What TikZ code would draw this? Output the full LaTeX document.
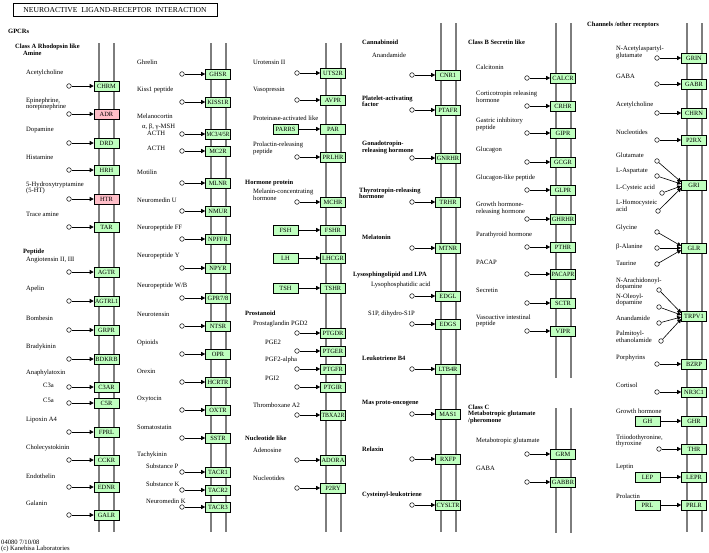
\documentclass[tikz,border=0pt]{standalone}
\usepackage{fontspec}
\setmainfont{Liberation Serif}
\usepackage{graphicx}
\usetikzlibrary{arrows.meta}
\definecolor{kgreen}{RGB}{191,255,191}
\definecolor{kpink}{RGB}{255,190,200}
\definecolor{memb}{RGB}{125,125,125}
\newsavebox\lbbox
\newcommand\fitl[1]{\sbox\lbbox{#1}\ifdim\wd\lbbox>23pt\resizebox{23pt}{\height}{\usebox\lbbox}\else\usebox\lbbox\fi}
\tikzset{
 rbox/.style={draw=black, fill=kgreen, minimum width=25pt, minimum height=10pt, inner sep=0pt, line width=0.6pt, font=\fontsize{6.4}{6.4}\selectfont},
 pbox/.style={rbox, fill=kpink},
 lig/.style={circle, draw=black, fill=white, minimum size=4.6pt, inner sep=0pt, line width=0.5pt},
 arr/.style={-{Triangle[length=4pt,width=4pt]}, line width=0.6pt},
 lbl/.style={anchor=west, inner sep=0pt, align=left, font=\fontsize{6.6}{6.5}\selectfont},
 hd/.style={lbl, font=\fontsize{6.5}{6.5}\selectfont\bfseries},
 mem/.style={draw=memb, line width=1.8pt},
}
\newcommand\rcp[6][rbox]{\node[lig] (c#5) at (#2,#4) {}; \node[#1] (#5) at (#3,#4) {\fitl{#6}}; \draw[arr] (c#5) -- (#5);}
\newcommand\lbx[7]{\node[rbox] (#4) at (#1,#3) {\fitl{#5}}; \node[rbox] (#6) at (#2,#3) {\fitl{#7}}; \draw[arr] (#4) -- (#6);}
\newcommand\tx[5][lbl]{\node[#1] (#2) at (#3,#4) {#5};}
\begin{document}
\begin{tikzpicture}[x=1pt,y=-1pt]
\useasboundingbox (0,0) rectangle (709,552);
\fill[white] (0,0) rectangle (709,552);
% membranes
\foreach \x in {99,114,211,226,326,341} \draw[mem] (\x,43) -- (\x,532);
\foreach \x in {441,456,687,702} \draw[mem] (\x,23) -- (\x,532);
\foreach \x in {556,571} {\draw[mem] (\x,23) -- (\x,378); \draw[mem] (\x,408) -- (\x,533);}
% title
\node[draw=black, line width=0.6pt, minimum width=204pt, minimum height=13pt, inner sep=0pt, font=\fontsize{7.6}{7.6}\selectfont] (title) at (115,10) {NEUROACTIVE\ \ LIGAND-RECEPTOR\ \ INTERACTION};
% column 1
\tx[hd]{tGPCR}{8}{31}{GPCRs}
\tx[hd]{tClassA}{15}{50}{Class A Rhodopsin like\\\hspace*{8pt}Amine}
\tx{tAch}{26}{73}{Acetylcholine}
\rcp{69}{106.5}{86}{CHRM}{CHRM}
\tx{tEpi}{26}{104}{Epinephrine,\\norepinephrine}
\rcp[pbox]{69}{106.5}{114}{ADR}{ADR}
\tx{tDop}{26}{130}{Dopamine}
\rcp{69}{106.5}{143}{DRD}{DRD}
\tx{tHis}{26}{157}{Histamine}
\rcp{69}{106.5}{170}{HRH}{HRH}
\tx{tHT}{26}{188}{5-Hydroxytryptamine\\(5-HT)}
\rcp[pbox]{69}{106.5}{199}{HTR}{HTR}
\tx{tTrace}{26}{214}{Trace amine}
\rcp{69}{106.5}{227}{TAR}{TAR}
\tx[hd]{tPep}{23}{252}{Peptide}
\tx{tAng}{26}{260}{Angiotensin II, III}
\rcp{69}{106.5}{272}{AGTR}{AGTR}
\tx{tApe}{26}{289}{Apelin}
\rcp{69}{106.5}{301}{AGTRL}{AGTRL1}
\tx{tBom}{26}{318}{Bombesin}
\rcp{69}{106.5}{330}{GRPR}{GRPR}
\tx{tBra}{26}{347}{Bradykinin}
\rcp{69}{106.5}{359}{BDKRB}{BDKRB}
\tx{tAna}{26}{373}{Anaphylatoxin}
\tx{tCTa}{43}{385}{C3a}
\rcp{69}{106.5}{387}{CTAR}{C3AR}
\tx{tCFa}{43}{400}{C5a}
\rcp{69}{106.5}{403}{CFR}{C5R}
\tx{tLip}{26}{420}{Lipoxin A4}
\rcp{69}{106.5}{432}{FPRL}{FPRL}
\tx{tCck}{26}{448}{Cholecystokinin}
\rcp{69}{106.5}{460}{CCKR}{CCKR}
\tx{tEnd}{26}{476}{Endothelin}
\rcp{69}{106.5}{487}{EDNR}{EDNR}
\tx{tGal}{26}{503}{Galanin}
\rcp{69}{106.5}{515}{GALR}{GALR}
\tx{tID}{1}{542}{04080 7/10/08}
\tx{tCopy}{1}{549}{(c) Kanehisa Laboratories}
% column 2
\tx{tGhr}{137}{62}{Ghrelin} \rcp{182}{218}{74}{GHSR}{GHSR}
\tx{tKis}{137}{90}{Kiss1 peptide} \rcp{182}{218}{102}{KISSR}{KISS1R}
\tx{tMel}{137}{116}{Melanocortin}
\tx{tMSH}{142}{127}{α, β, γ-MSH}
\tx{tACTHa}{147}{133.5}{ACTH}
\rcp{182}{218}{134}{MCR}{MC3/4/5R}
\tx{tACTHb}{147}{148}{ACTH} \rcp{182}{218}{151}{MCTWOR}{MC2R}
\tx{tMot}{137}{172}{Motilin} \rcp{182}{218}{183}{MLNR}{MLNR}
\tx{tNmu}{137}{200}{Neuromedin U} \rcp{182}{218}{211}{NMUR}{NMUR}
\tx{tNff}{137}{228}{Neuropeptide FF} \rcp{182}{218}{239}{NPFFR}{NPFFR}
\tx{tNpy}{137}{256}{Neuropeptide Y} \rcp{182}{218}{268}{NPYR}{NPYR}
\tx{tNwb}{137}{286}{Neuropeptide W/B} \rcp{182}{218}{298}{GPR}{GPR7/8}
\tx{tNts}{137}{314}{Neurotensin} \rcp{182}{218}{326}{NTSR}{NTSR}
\tx{tOpi}{137}{343}{Opioids} \rcp{182}{218}{354}{OPR}{OPR}
\tx{tOre}{137}{371}{Orexin} \rcp{182}{218}{382}{HCRTR}{HCRTR}
\tx{tOxy}{137}{399}{Oxytocin} \rcp{182}{218}{410}{OXTR}{OXTR}
\tx{tSom}{137}{427}{Somatostatin} \rcp{182}{218}{438}{SSTR}{SSTR}
\tx{tTac}{137}{455}{Tachykinin}
\tx{tSP}{146}{466}{Substance P} \rcp{182}{218}{472}{TACRa}{TACR1}
\tx{tSK}{146}{484}{Substance K} \rcp{182}{218}{490}{TACRb}{TACR2}
\tx{tNK}{146}{501}{Neuromedin K} \rcp{182}{218}{507}{TACRc}{TACR3}
% column 3
\tx{tUro}{253}{62}{Urotensin II} \rcp{297}{333}{73}{UTSR}{UTS2R}
\tx{tVas}{253}{90}{Vasopressin} \rcp{297}{333}{100}{AVPR}{AVPR}
\tx{tPro}{253}{118}{Proteinase-activated like} \lbx{285.5}{333}{129}{PARRS}{PARRS}{PAR}{PAR}
\tx{tPrl}{253}{148.5}{Prolactin-releasing\\peptide} \rcp{297}{333}{157}{PRLHR}{PRLHR}
\tx[hd]{tHor}{245}{183}{Hormone protein}
\tx{tMch}{253}{194.5}{Melanin-concentrating\\hormone} \rcp{297}{333}{202}{MCHR}{MCHR}
\lbx{285.5}{333}{230}{FSH}{FSH}{FSHR}{FSHR}
\lbx{285.5}{333}{258}{LH}{LH}{LHCGR}{LHCGR}
\lbx{285.5}{333}{288}{TSH}{TSH}{TSHR}{TSHR}
\tx[hd]{tPros}{245}{313}{Prostanoid}
\tx{tPGD}{253}{324}{Prostaglandin PGD2} \rcp{297}{333}{333}{PTGDR}{PTGDR}
\tx{tPGE}{265}{342}{PGE2} \rcp{297}{333}{351}{PTGER}{PTGER}
\tx{tPGF}{265}{360}{PGF2-alpha} \rcp{297}{333}{369}{PTGFR}{PTGFR}
\tx{tPGI}{265}{378}{PGI2} \rcp{297}{333}{387}{PTGIR}{PTGIR}
\tx{tTxa}{253}{405}{Thromboxane A2} \rcp{297}{333}{415}{TBXAR}{TBXA2R}
\tx[hd]{tNuc}{245}{438}{Nucleotide like}
\tx{tAde}{253}{450}{Adenosine} \rcp{297}{333}{460}{ADORA}{ADORA}
\tx{tNucs}{253}{478}{Nucleotides} \rcp{297}{333}{488}{PTWORY}{P2RY}
% column 4
\tx[hd]{tCan}{362}{42}{Cannabinoid}
\tx{tAnan}{372}{55}{Anandamide} \rcp{412}{448}{75}{CNR}{CNR1}
\tx[hd]{tPaf}{362}{101.5}{Platelet-activating\\factor} \rcp{412}{448}{110}{PTAFR}{PTAFR}
\tx[hd]{tGnrh}{362}{147.5}{Gonadotropin-\\releasing hormone} \rcp{412}{448}{158}{GNRHR}{GNRHR}
\tx[hd]{tTrh}{359}{193.5}{Thyrotropin-releasing\\hormone} \rcp{412}{448}{202}{TRHR}{TRHR}
\tx[hd]{tMelat}{362}{237}{Melatonin} \rcp{412}{448}{248}{MTNR}{MTNR}
\tx[hd]{tLyso}{353}{275}{Lysosphingolipid and LPA}
\tx{tLpa}{371}{285}{Lysophosphatidic acid} \rcp{412}{448}{296}{EDGL}{EDGL}
\tx{tSip}{368}{314}{S1P, dihydro-S1P} \rcp{412}{448}{324}{EDGS}{EDGS}
\tx[hd]{tLtb}{362}{358}{Leukotriene B4} \rcp{412}{448}{369}{LTBR}{LTB4R}
\tx[hd]{tMas}{362}{403}{Mas proto-oncogene} \rcp{412}{448}{414}{MAS}{MAS1}
\tx[hd]{tRel}{362}{449}{Relaxin} \rcp{412}{448}{459}{RXFP}{RXFP}
\tx[hd]{tCys}{362}{495}{Cysteinyl-leukotriene} \rcp{412}{448}{505}{CYSLTR}{CYSLTR}
% column 5
\tx[hd]{tClB}{468}{42}{Class B Secretin like}
\tx{tCal}{476}{67}{Calcitonin} \rcp{527}{563}{78}{CALCR}{CALCR}
\tx{tCrh}{476}{96.5}{Corticotropin releasing\\hormone} \rcp{527}{563}{106}{CRHR}{CRHR}
\tx{tGip}{476}{124.5}{Gastric inhibitory\\peptide} \rcp{527}{563}{133}{GIPR}{GIPR}
\tx{tGlu}{476}{150}{Glucagon} \rcp{527}{563}{162}{GCGR}{GCGR}
\tx{tGlp}{476}{178}{Glucagon-like peptide} \rcp{527}{563}{190}{GLPR}{GLPR}
\tx{tGhrh}{476}{208.5}{Growth hormone-\\releasing hormone} \rcp{527}{563}{219}{GHRHR}{GHRHR}
\tx{tPth}{476}{235}{Parathyroid hormone} \rcp{527}{563}{247}{PTHR}{PTHR}
\tx{tPac}{476}{262}{PACAP} \rcp{527}{563}{274}{PACAPR}{PACAPR}
\tx{tSec}{476}{290}{Secretin} \rcp{527}{563}{303}{SCTR}{SCTR}
\tx{tVip}{476}{321}{Vasoactive intestinal\\peptide} \rcp{527}{563}{331}{VIPR}{VIPR}
\tx[hd]{tClC}{468}{414}{Class C\\Metabotropic glutamate\\/pheromone}
\tx{tMgl}{476}{441}{Metabotropic glutamate} \rcp{527}{563}{454}{GRM}{GRM}
\tx{tGaba}{476}{468}{GABA} \rcp{527}{563}{482}{GABBR}{GABBR}
% column 6
\tx[hd]{tChan}{587}{25}{Channels /other receptors}
\tx{tNaag}{616}{52.5}{N-Acetylaspartyl-\\glutamate} \rcp{657}{694}{58}{GRIN}{GRIN}
\tx{tGabb}{616}{76}{GABA} \rcp{657}{694}{84}{GABR}{GABR}
\tx{tAchb}{616}{105}{Acetylcholine} \rcp{657}{694}{113}{CHRN}{CHRN}
\tx{tNucb}{616}{132}{Nucleotides} \rcp{657}{694}{140}{PTWORX}{P2RX}
\node[rbox] (GRI) at (694,185) {GRI};
\tx{tGlut}{616}{155}{Glutamate} \node[lig] (cGlut) at (657,161) {};
\tx{tAsp}{616}{171}{L-Aspartate} \node[lig] (cAsp) at (657,176) {};
\tx{tCya}{616}{188}{L-Cysteic acid} \node[lig] (cCya) at (662,193) {};
\tx{tHca}{616}{206}{L-Homocysteic\\acid} \node[lig] (cHca) at (658,211) {};
\draw[arr] (cGlut) -- ([yshift=3pt]GRI.west);
\draw[arr] (cAsp) -- ([yshift=1pt]GRI.west);
\draw[arr] (cCya) -- ([yshift=-1pt]GRI.west);
\draw[arr] (cHca) -- ([yshift=-3pt]GRI.west);
\node[rbox] (GLR) at (694,248) {GLR};
\tx{tGly}{616}{228}{Glycine} \node[lig] (cGly) at (657,232) {};
\tx{tBal}{616}{247}{β-Alanine} \node[lig] (cBal) at (657,248) {};
\tx{tTau}{616}{263}{Taurine} \node[lig] (cTau) at (657,264) {};
\draw[arr] (cGly) -- ([yshift=2pt]GLR.west);
\draw[arr] (cBal) -- (GLR.west);
\draw[arr] (cTau) -- ([yshift=-2pt]GLR.west);
\node[rbox] (TRPV) at (694,316) {TRPV1};
\tx{tNada}{616}{284}{N-Arachidonoyl-\\dopamine} \node[lig] (cNada) at (659,290) {};
\tx{tOlda}{616}{300}{N-Oleoyl-\\dopamine} \node[lig] (cOlda) at (659,307) {};
\tx{tAnanb}{616}{318}{Anandamide} \node[lig] (cAnan) at (659,323) {};
\tx{tPea}{616}{336.5}{Palmitoyl-\\ethanolamide} \node[lig] (cPea) at (661,341) {};
\draw[arr] (cNada) -- ([yshift=3pt]TRPV.west);
\draw[arr] (cOlda) -- ([yshift=1pt]TRPV.west);
\draw[arr] (cAnan) -- ([yshift=-1pt]TRPV.west);
\draw[arr] (cPea) -- ([yshift=-3pt]TRPV.west);
\tx{tPor}{616}{358}{Porphyrins} \rcp{657}{694}{364}{BZRP}{BZRP}
\tx{tCor}{616}{385}{Cortisol} \rcp{657}{694}{392}{NRCR}{NR3C1}
\tx{tGh}{616}{411}{Growth hormone} \lbx{647.5}{694}{421}{GH}{GH}{GHR}{GHR}
\tx{tTth}{616}{441}{Triiodothyronine,\\thyroxine} \rcp{659}{694}{449}{THR}{THR}
\tx{tLep}{616}{467}{Leptin} \lbx{647.5}{694}{477}{LEP}{LEP}{LEPR}{LEPR}
\tx{tPrlb}{616}{496}{Prolactin} \lbx{647.5}{694}{505}{PRL}{PRL}{PRLR}{PRLR}
\end{tikzpicture}
\end{document}
